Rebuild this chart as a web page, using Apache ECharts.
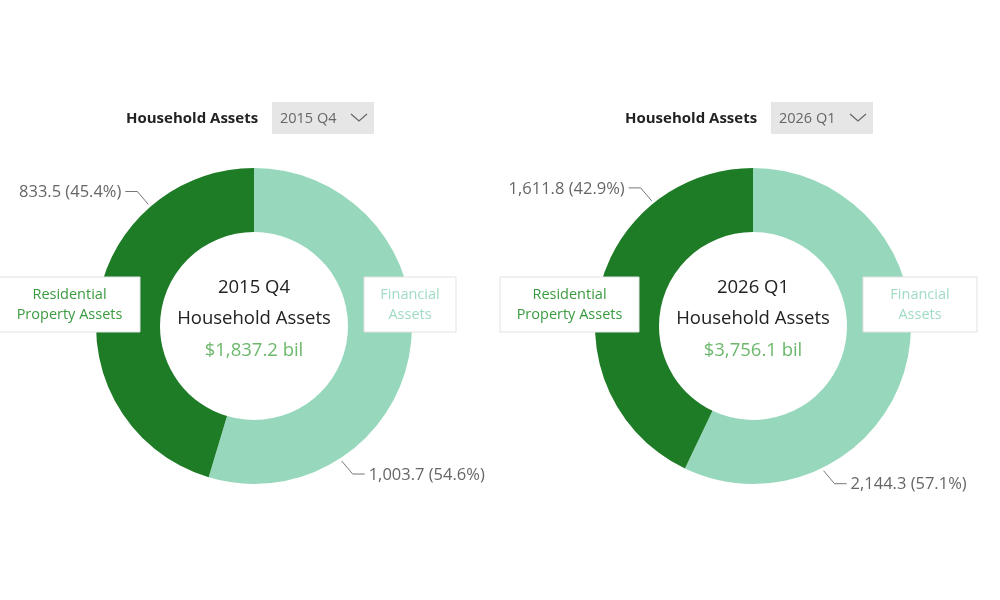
<!DOCTYPE html>
<html>
<head>
<meta charset="utf-8">
<script src="https://cdn.jsdelivr.net/npm/echarts@6/dist/echarts.min.js"></script>
<style>
html,body{margin:0;padding:0;background:#fff;}
#chart{width:1000px;height:600px;}
</style>
</head>
<body>
<div id="chart"></div>
<script>
// ---- data ----
const periods = ['2015 Q4', '2026 Q1'];
const categories = ['Financial Assets', 'Residential Property Assets'];
const boxLabels = [['Financial', 'Assets'], ['Residential', 'Property Assets']];
const financialAssets = [1003.7, 2144.3];
const residentialAssets = [833.5, 1611.8];
const headerTitle = 'Household Assets';
const unitLabel = 'bil';

// ---- layout / style ----
const FONT = 'Open Sans';
const colors = ['#97d8bc', '#1e7b26'];
const boxTextColors = ['#a0dcc4', '#3a9a40'];
const centers = [[254, 326], [753, 326]];
const radii = [94, 158];
const leaderAngles = [[147, 319], [154, 321]]; // [chart][slice] degrees clockwise from top
const headerPos = [{tx: 126, bx: 272}, {tx: 625, bx: 771}];
const boxPos = [
  [{x: 364, w: 92}, {x: -1, w: 141}],
  [{x: 863, w: 114}, {x: 500, w: 139}]
];

function fmt(v) {
  return v.toLocaleString('en-US', {minimumFractionDigits: 1, maximumFractionDigits: 1});
}

const chart = echarts.init(document.getElementById('chart'));
const series = [];
const graphic = [];

periods.forEach((p, i) => {
  const vals = [financialAssets[i], residentialAssets[i]];
  const total = vals[0] + vals[1];
  const [cx, cy] = centers[i];
  series.push({
    type: 'pie',
    center: [cx, cy],
    radius: radii,
    startAngle: 90,
    clockwise: true,
    silent: true,
    animation: false,
    avoidLabelOverlap: false,
    data: categories.map((c, k) => ({
      name: c, value: vals[k],
      itemStyle: {color: colors[k]}
    })),
    label: {
      show: true,
      position: 'outside',
      color: '#666',
      fontFamily: FONT,
      fontSize: 16.5,
      overflow: 'none',
      width: 200,
      formatter: (d) => fmt(d.value) + ' (' + (d.value / total * 100).toFixed(1) + '%)'
    },
    labelLine: {show: true, lineStyle: {color: '#777', width: 1}},
    labelLayout: (params) => {
      const k = params.dataIndex;
      const a = leaderAngles[i][k] * Math.PI / 180;
      const r = radii[1] + 3;
      const px = cx + r * Math.sin(a), py = cy - r * Math.cos(a);
      const dir = Math.sin(a) >= 0 ? 1 : -1;
      const ex = px + dir * 11, ey = py + (Math.cos(a) >= 0 ? -13 : 13);
      const hx = ex + dir * 12;
      return {
        x: hx + dir * 4,
        y: ey + 1,
        align: dir > 0 ? 'left' : 'right',
        verticalAlign: 'middle',
        labelLinePoints: [[px, py], [ex, ey], [hx, ey]]
      };
    }
  });

  // header
  const h = headerPos[i];
  graphic.push(
    {type: 'text', x: h.tx, y: 119, style: {text: headerTitle, font: 'bold 15px "' + FONT + '"', fill: '#222', verticalAlign: 'middle'}},
    {type: 'rect', shape: {x: h.bx, y: 102, width: 102, height: 32}, style: {fill: '#e6e6e6'}},
    {type: 'text', x: h.bx + 8, y: 119, style: {text: p, font: '14.5px "' + FONT + '"', fill: '#666', verticalAlign: 'middle'}},
    {type: 'polyline', shape: {points: [[h.bx + 79, 114], [h.bx + 87, 121], [h.bx + 95, 114]]}, style: {stroke: '#666', lineWidth: 1.2, fill: null}}
  );
  // centre text
  graphic.push(
    {type: 'text', x: cx, y: 288, z: 10, style: {text: p, font: '18.5px "' + FONT + '"', fill: '#222', align: 'center', verticalAlign: 'middle'}},
    {type: 'text', x: cx, y: 319, z: 10, style: {text: headerTitle, font: '18.5px "' + FONT + '"', fill: '#222', align: 'center', verticalAlign: 'middle'}},
    {type: 'text', x: cx, y: 351, z: 10, style: {text: '$' + fmt(total) + ' ' + unitLabel, font: '18.5px "' + FONT + '"', fill: '#6cb86c', align: 'center', verticalAlign: 'middle'}}
  );
  // category boxes
  boxPos[i].forEach((b, k) => {
    graphic.push(
      {type: 'rect', z: 20, shape: {x: b.x, y: 277, width: b.w, height: 55}, style: {fill: '#fff', stroke: '#e2e2e2', lineWidth: 1}},
      {type: 'text', z: 21, x: b.x + b.w / 2, y: 305, style: {text: boxLabels[k].join('\n'), font: '14.5px "' + FONT + '"', lineHeight: 20, fill: boxTextColors[k], align: 'center', verticalAlign: 'middle'}}
    );
  });
});

chart.setOption({
  backgroundColor: '#fff',
  animation: false,
  series: series,
  graphic: graphic
});
</script>
</body>
</html>
